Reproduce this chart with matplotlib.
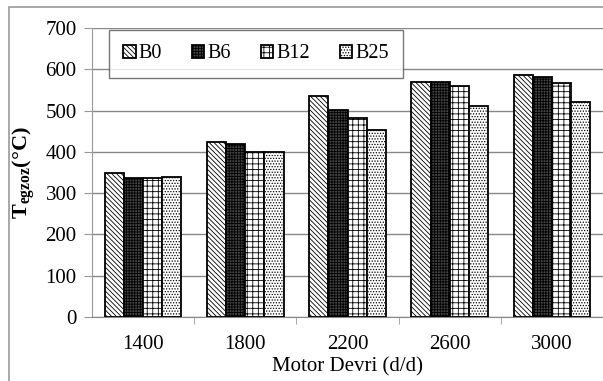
import numpy as np
import matplotlib
matplotlib.use('Agg')
import matplotlib.pyplot as plt
from matplotlib.patches import Rectangle

plt.rcParams['font.family'] = ['Liberation Serif', 'DejaVu Serif']
plt.rcParams['mathtext.fontset'] = 'custom'
plt.rcParams['mathtext.rm'] = 'Liberation Serif'
plt.rcParams['mathtext.it'] = 'Liberation Serif:italic'
plt.rcParams['mathtext.bf'] = 'Liberation Serif:bold'
plt.rcParams['hatch.linewidth'] = 0.6

speeds = ['1400', '1800', '2200', '2600', '3000']
series = ['B0', 'B6', 'B12', 'B25']
b0 = [349, 424, 536, 569, 586]
b6 = [337, 419, 502, 569, 582]
b12 = [337, 400, 482, 559, 567]
b25 = [339, 400, 453, 511, 520]
values = [b0, b6, b12, b25]
hatches = ['\\\\\\\\\\\\\\', '++++++', '+++', '......']
faces = ['white', '#444444', 'white', 'white']

fig = plt.figure(figsize=(6.03, 3.81), dpi=100)
fig.patches.append(Rectangle((9 / 603, -0.1), 1.2, 1 - 7 / 381 + 0.1, transform=fig.transFigure,
                             fill=False, edgecolor='#999999', linewidth=1.2))
ax = fig.add_axes([92 / 603, 1 - 317 / 381, 511 / 603, 289 / 381])

x = np.arange(len(speeds))
w = 0.187
for i, vals in enumerate(values):
    ax.bar(x + (i - 1.5) * w, vals, w, color=faces[i], hatch=hatches[i], edgecolor='black',
           linewidth=1.3, label=series[i], zorder=3)

ax.set_xlim(-0.5, 4.5)
ax.set_ylim(0, 700)
ax.set_yticks(range(0, 701, 100))
ax.set_xticks(x)
ax.set_xticklabels(speeds)
ax.set_xticks(np.arange(0.5, 4.5, 1), minor=True)
ax.tick_params(axis='x', which='major', length=0, pad=13, labelsize=15)
ax.tick_params(axis='x', which='minor', length=5, color='#999999')
ax.tick_params(axis='y', length=6, color='#999999', labelsize=15, pad=5)
ax.grid(axis='y', color='#888888', linewidth=1, zorder=0)
for s in ['top', 'right']:
    ax.spines[s].set_visible(False)
ax.spines['left'].set_color('#999999')
ax.spines['bottom'].set_color('#888888')
ax.set_xlabel('Motor Devri (d/d)', fontsize=15, labelpad=2)
ax.set_ylabel(r'$\mathbf{T_{egzoz}(°C)}$', fontsize=16, labelpad=6)

leg = ax.legend(ncol=4, loc='center', bbox_to_anchor=((256 - 92) / 511, (317 - 54) / 289),
                fontsize=14.5, frameon=True, fancybox=False, handlelength=0.6, handleheight=0.6,
                handletextpad=0.15, columnspacing=1.5, borderpad=0.7)
leg.get_frame().set_edgecolor('#555555')
leg.get_frame().set_linewidth(1.0)

fig.savefig('out.png', dpi=100)
